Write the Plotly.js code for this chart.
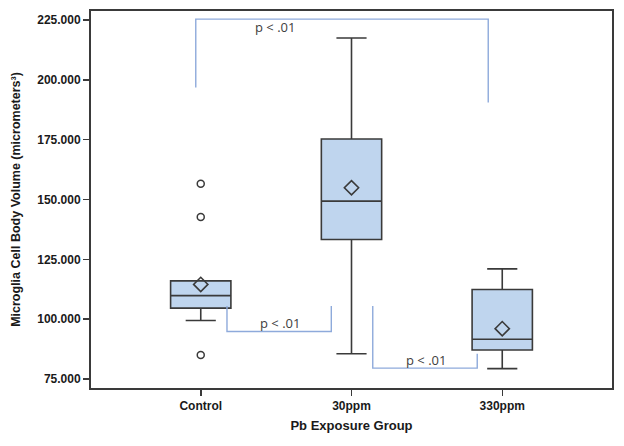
<!DOCTYPE html>
<html>
<head>
<meta charset="utf-8">
<script src="https://cdn.plot.ly/plotly-3.0.1.min.js"></script>
<style>html,body{margin:0;padding:0;background:#fff;}#chart{width:624px;height:446px;}</style>
</head>
<body>
<div id="chart"></div>
<script>
// Data
const groups = ['Control', '30ppm', '330ppm'];
const lowerWhisker = [99.4, 85.5, 79.3];
const q1Values = [104.6, 133.3, 87.1];
const medianValues = [109.8, 149.3, 91.6];
const q3Values = [116.0, 175.3, 112.4];
const upperWhisker = [116.0, 217.5, 121.0];
const meanValues = [114.5, 154.9, 96.0];
const outlierGroups = ['Control', 'Control', 'Control'];
const outlierValues = [156.6, 142.7, 85.0];
const yTickVals = [75, 100, 125, 150, 175, 200, 225];
const yTickText = ['75.000', '100.000', '125.000', '150.000', '175.000', '200.000', '225.000'];
const sigLabel = 'p < .01';

const lineCol = '#3a3a3a';
const fillCol = '#bfd5ee';
const brCol = '#8eaadb';

const traces = [
  {
    type: 'box',
    x: groups,
    q1: q1Values,
    median: medianValues,
    q3: q3Values,
    lowerfence: lowerWhisker,
    upperfence: upperWhisker,
    width: 0.4,
    whiskerwidth: 0.5,
    fillcolor: fillCol,
    line: {color: lineCol, width: 1.6},
    boxpoints: false,
    hoverinfo: 'skip',
    showlegend: false
  },
  {
    type: 'scatter',
    mode: 'markers',
    x: groups,
    y: meanValues,
    marker: {symbol: 'diamond-open', size: 11, color: lineCol, line: {width: 1.6, color: lineCol}},
    showlegend: false
  },
  {
    type: 'scatter',
    mode: 'markers',
    x: outlierGroups,
    y: outlierValues,
    marker: {symbol: 'circle-open', size: 7, color: lineCol, line: {width: 1.5, color: lineCol}},
    showlegend: false
  }
];

function bracket(pts) {
  return {
    type: 'path', xref: 'x', yref: 'y',
    path: pts.map((p, i) => (i ? 'L' : 'M') + p[0] + ',' + p[1]).join(' '),
    line: {color: brCol, width: 1.4}
  };
}

const layout = {
  width: 624, height: 446,
  margin: {l: 91, r: 12, t: 11, b: 58},
  paper_bgcolor: '#fff', plot_bgcolor: '#fff',
  font: {family: 'Liberation Sans, Arial, sans-serif', color: '#1a1a1a'},
  xaxis: {
    type: 'category',
    range: [-0.728, 2.728],
    showline: true, mirror: true, linecolor: lineCol, linewidth: 2,
    ticks: 'outside', ticklen: 6, tickcolor: lineCol, tickwidth: 1.5,
    showgrid: false, zeroline: false,
    tickfont: {size: 12, weight: 'bold', color: '#1a1a1a'},
    title: {text: 'Pb Exposure Group', font: {size: 13, weight: 'bold', color: '#1a1a1a'}, standoff: 8}
  },
  yaxis: {
    range: [71.2, 228.8],
    tickvals: yTickVals, ticktext: yTickText,
    showline: true, mirror: true, linecolor: lineCol, linewidth: 2,
    ticks: 'outside', ticklen: 6, tickcolor: lineCol, tickwidth: 1.5,
    showgrid: false, zeroline: false,
    tickfont: {size: 12, weight: 'bold', color: '#1a1a1a'},
    title: {text: 'Microglia Cell Body Volume (micrometers³)', font: {size: 12.5, weight: 'bold', color: '#1a1a1a'}, standoff: 14}
  },
  shapes: [
    bracket([[-0.033, 196.8], [-0.033, 225.4], [1.907, 225.4], [1.907, 190.5]]),
    bracket([[0.174, 105.5], [0.174, 94.8], [0.866, 94.8], [0.866, 105.5]]),
    bracket([[1.141, 105.5], [1.141, 79.5], [1.834, 79.5], [1.834, 85.5]])
  ],
  annotations: [
    {x: 0.493, y: 222.3, xref: 'x', yref: 'y', text: sigLabel, showarrow: false, font: {size: 13, color: '#404040', family: 'Open Sans, sans-serif'}},
    {x: 0.526, y: 98.2, xref: 'x', yref: 'y', text: sigLabel, showarrow: false, font: {size: 13, color: '#404040', family: 'Open Sans, sans-serif'}},
    {x: 1.494, y: 82.7, xref: 'x', yref: 'y', text: sigLabel, showarrow: false, font: {size: 13, color: '#404040', family: 'Open Sans, sans-serif'}}
  ]
};

Plotly.newPlot('chart', traces, layout, {displayModeBar: false, staticPlot: true});
</script>
</body>
</html>
